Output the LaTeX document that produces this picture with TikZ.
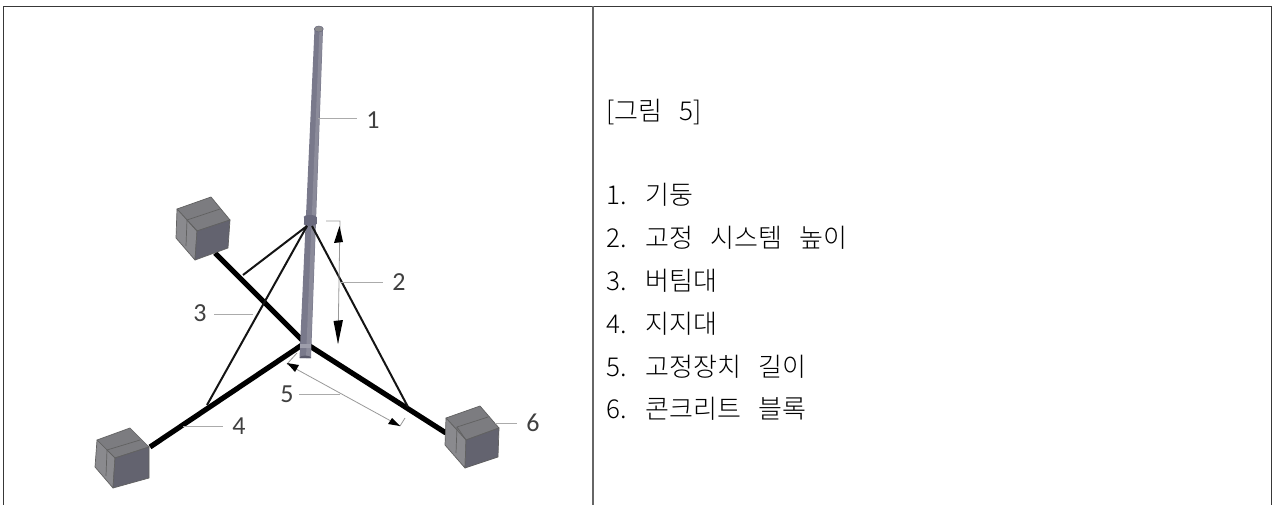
\documentclass[tikz,border=0pt]{standalone}
\usepackage{fontspec}
\newfontfamily\krfont[WordSpace=3]{Noto Sans CJK KR Light}
\newfontfamily\numfont{Carlito}
\definecolor{blockfront}{HTML}{63636F}
\definecolor{blockside}{HTML}{8A8A8E}
\definecolor{blocktop}{HTML}{7C7C80}
\definecolor{polecol}{HTML}{6A6A7E}
\definecolor{leadcol}{HTML}{ABABAB}
\tikzset{
  frameline/.style={draw=black!78,line width=1.9pt},
  beam/.style={draw=black,line width=5.2pt},
  brace/.style={draw=black!92,line width=2pt},
  leader/.style={draw=leadcol,line width=1pt},
  dimline/.style={draw=black!40,line width=.8pt},
  num/.style={font=\numfont\fontsize{26}{26}\selectfont,text=black!75,inner sep=0pt},
  item/.style={font=\krfont\fontsize{26}{30}\selectfont,anchor=west,inner sep=0pt,text=black},
  blockedge/.style={draw=black!62,line width=.7pt,line join=round}
}
\newcommand{\blockdraw}[9]{% left, back, right, rightbottom, bottom, leftbottom, front, seamL, seamR
  \fill[blocktop,blockedge] #1 -- #2 -- #3 -- #7 -- cycle;
  \fill[blockside,blockedge] #1 -- #7 -- #5 -- #6 -- cycle;
  \fill[blockfront,blockedge] #7 -- #3 -- #4 -- #5 -- cycle;
  \draw[blockedge] #8 -- #9;
  \draw[blockedge] #8 -- #7;
  \draw[blockedge] #8 -- ++(-1,26);
}
\begin{document}
\begin{tikzpicture}[x=1pt,y=-1pt]
\useasboundingbox (0,0) rectangle (1273,505);
\fill[white] (0,0) rectangle (1273,505);
% table
\draw[frameline] (3.5,505) -- (3.5,6.5) -- (1271.5,6.5) -- (1271.5,505);
\draw[frameline,draw=black!60] (593,6.5) -- (593,505);
% beams
\coordinate (hub) at (305,343);
\draw[beam] (215,253) -- (hub);
\draw[beam] (hub) -- (446,433);
\draw[beam] (hub) -- (150,447);
% blocks
\blockdraw{(177,209)}{(211,197)}{(230,220)}{(228,248)}{(195,260)}{(176,238)}{(197,231)}{(187,220)}{(220,209)}
\blockdraw{(97,440)}{(130,428)}{(149,447)}{(149,478)}{(113,488)}{(95,467)}{(115,458)}{(107,450)}{(140,440)}
\blockdraw{(446,418)}{(480,406)}{(499,428)}{(498,457)}{(465,468)}{(445,445)}{(466,440)}{(457,427)}{(488,417)}
% pole
\fill[polecol!90!white] (314.5,29) -- (323,29) -- (311,358) -- (299.5,358) -- cycle;
\fill[polecol!78!white] (319.5,29) -- (322.5,29) -- (310.5,358) -- (306,358) -- cycle;
\fill[polecol!85!black] (299.5,358) arc[start angle=180,end angle=360,x radius=5.75,y radius=2.5] -- cycle;
\fill[blockside,draw=polecol,line width=.5pt] (318.8,29) ellipse[x radius=4.5,y radius=3];
\fill[polecol] (303.5,217) rectangle (316.5,224);
\fill[polecol] (310,217) ellipse[x radius=6.5,y radius=2];
\fill[polecol] (310,224) ellipse[x radius=6.5,y radius=2];
\fill[polecol!65!white] (299.5,344) rectangle (311,348);
% thin braces
\coordinate (collarL) at (307,226);
\coordinate (collarR) at (312,226);
\coordinate (footA) at (243,275);
\coordinate (footB) at (207,405);
\coordinate (footC) at (408,407);
\draw[brace] (collarL) -- (footA);
\draw[brace] (collarL) -- (footB);
\draw[brace] (collarR) -- (footC);
% dimension 2
\coordinate (d2a) at (326,221);
\coordinate (d2b) at (340,221);
\coordinate (d2c) at (338,343);
\draw[dimline] (d2a) -- (d2b) -- (d2c);
\fill[black] (339.5,226) -- (343,242) -- (334,243) -- cycle;
\fill[black] (338,344) -- (333.5,321) -- (343,320) -- cycle;
% dimension 5
\coordinate (d5a) at (287,364);
\coordinate (d5b) at (400,426);
\coordinate (d5c) at (297,353);
\coordinate (d5d) at (405,418);
\draw[dimline] (d5a) -- (d5b);
\draw[dimline] (d5a) -- (d5c);
\draw[dimline] (d5b) -- (d5d);
\fill[black] (287,363) -- (299,365) -- (295,372) -- cycle;
\fill[black] (400,426) -- (388,424) -- (392,418) -- cycle;
% labels and leaders
\node[num] (n1) at (373,120) {1};
\node[num] (n2) at (399,282) {2};
\node[num] (n3) at (200,313) {3};
\node[num] (n4) at (239,426) {4};
\node[num] (n5) at (287,394) {5};
\node[num] (n6) at (533,423) {6};
\coordinate (l1) at (318,119);
\coordinate (l2) at (340,282);
\coordinate (l3) at (253,314);
\coordinate (l4) at (183,426);
\coordinate (l5) at (340,394);
\coordinate (l6) at (495,423);
\draw[leader] (l1) -- ([xshift=-9pt]n1.west|-l1);
\draw[leader] (l2) -- ([xshift=-9pt]n2.west|-l2);
\draw[leader] (l3) -- ([xshift=7pt]n3.east|-l3);
\draw[leader] (l4) -- ([xshift=-9pt]n4.west|-l4);
\draw[leader] (l5) -- ([xshift=5pt]n5.east|-l5);
\draw[leader] (l6) -- ([xshift=-9pt]n6.west|-l6);
% right column
\node[item] (t0) at (606,112) {[그림 5]};
\node[item] (t1) at (606,195) {1. 기둥};
\node[item] (t2) at (606,238) {2. 고정 시스템 높이};
\node[item] (t3) at (606,281) {3. 버팀대};
\node[item] (t4) at (606,324) {4. 지지대};
\node[item] (t5) at (606,367) {5. 고정장치 길이};
\node[item] (t6) at (606,409) {6. 콘크리트 블록};
\end{tikzpicture}
\end{document}
